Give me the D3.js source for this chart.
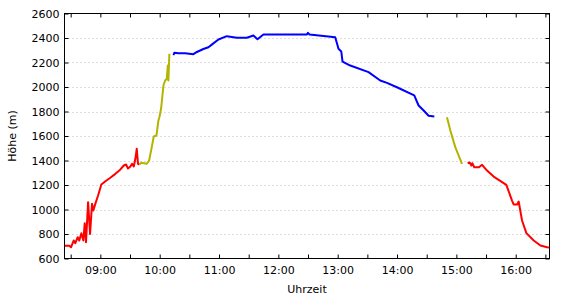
<!DOCTYPE html>
<html><head><meta charset="utf-8">
<script src="https://cdn.jsdelivr.net/npm/d3@7"></script>
<style>
body{margin:0;background:#fff;}
svg{display:block;}
text{font-family:"DejaVu Sans",Verdana,sans-serif;font-size:11px;fill:#000;}
</style></head><body>
<svg id="c" width="570" height="300"></svg>
<script>
// Data: time of day and altitude (m), per coloured segment
const redA_t = ["08:24:00","08:28:36","08:30:24","08:33:06","08:34:42","08:37:06","08:38:42","08:40:48","08:42:48","08:44:12","08:45:30","08:47:36","08:49:36","08:51:36","08:52:54","08:54:54","08:57:42","09:01:00","09:05:06","09:10:06","09:15:12","09:19:12","09:23:42","09:26:00","09:28:00","09:30:24","09:32:06","09:33:48","09:35:24","09:36:48","09:38:06","09:39:30"];
const redA_h = [705,705,692,747,725,774,747,806,747,888,733,1060,801,1046,992,1046,1114,1204,1231,1259,1291,1318,1359,1367,1335,1351,1373,1351,1414,1495,1373,1367];
const yelA_t = ["09:39:30","09:41:12","09:47:00","09:49:18","09:52:00","09:54:00","09:56:42","09:58:42","09:59:42","10:01:24","10:03:48","10:05:30","10:07:12","10:08:12","10:08:48","10:09:48"];
const yelA_h = [1367,1381,1373,1400,1509,1596,1604,1726,1753,1822,2012,2053,2067,2175,2053,2271];
const blue_t = ["10:13:54","10:14:54","10:18:54","10:25:42","10:34:06","10:37:36","10:44:12","10:49:18","10:53:00","10:59:24","11:07:54","11:18:00","11:28:06","11:34:48","11:38:54","11:44:54","12:28:54","12:29:54","12:31:30","12:57:30","13:00:48","13:03:36","13:04:54","13:12:42","13:31:12","13:43:00","13:49:48","13:59:54","14:17:24","14:21:48","14:26:54","14:31:54","14:37:42"];
const blue_h = [2260,2280,2276,2276,2268,2286,2310,2325,2348,2388,2415,2402,2402,2420,2390,2429,2429,2442,2429,2406,2312,2290,2208,2175,2121,2053,2034,1998,1931,1849,1808,1765,1759];
const yelB_t = ["14:50:30","14:53:54","14:58:54","15:05:42"];
const yelB_h = [1753,1645,1509,1373];
const redB_t = ["15:11:24","15:13:24","15:15:06","15:16:06","15:18:06","15:22:54","15:26:00","15:31:00","15:37:42","15:50:30","15:56:18","15:57:54","16:01:24","16:03:00","16:06:24","16:10:48","16:18:12","16:25:00","16:31:42","16:34:06"];
const redB_h = [1378,1384,1359,1378,1345,1345,1365,1318,1269,1201,1073,1041,1041,1065,910,807,747,706,692,690];
const timeDomain = ["08:23:45","16:34:10"];
const yDomain = [600,2600];
const yTicks = [600,800,1000,1200,1400,1600,1800,2000,2200,2400,2600];

const parse = d3.timeParse("%H:%M:%S");
const svg = d3.select("#c");
const L = 64.5, R = 549.5, T = 13.5, B = 258.5;
const x = d3.scaleTime().domain(timeDomain.map(parse)).range([L, R]);
const y = d3.scaleLinear().domain(yDomain).range([B, T]);
const xTicks = d3.timeMinute.every(30).range(parse("08:30:00"), parse("16:34:10"));
const fmt = d3.timeFormat("%H:%M");
const xFmt = d => d.getMinutes() === 0 ? fmt(d) : "";

// gridlines
svg.append("g").selectAll("line").data(yTicks.slice(1, -1)).join("line")
  .attr("x1", L).attr("x2", R)
  .attr("y1", d => Math.round(y(d)) + 0.5).attr("y2", d => Math.round(y(d)) + 0.5)
  .attr("stroke", "#bdbdbd").attr("stroke-dasharray", "1,3");

// axes
function style(g){ g.select(".domain").remove(); g.selectAll("line").attr("stroke","#000"); g.selectAll("text").attr("fill","#000").style("font-family",'"DejaVu Sans",Verdana,sans-serif').style("font-size","11px"); }
svg.append("g").attr("transform", `translate(0,${B})`)
  .call(d3.axisBottom(x).tickValues(xTicks).tickFormat(xFmt).tickSizeInner(-4).tickSizeOuter(0).tickPadding(8)).call(style);
svg.append("g").attr("transform", `translate(0,${T})`)
  .call(d3.axisTop(x).tickValues(xTicks).tickFormat("").tickSizeInner(-4).tickSizeOuter(0)).call(style);
svg.append("g").attr("transform", `translate(${L},0)`)
  .call(d3.axisLeft(y).tickValues(yTicks).tickFormat(d3.format("d")).tickSizeInner(-4).tickSizeOuter(0).tickPadding(5)).call(style);
svg.append("g").attr("transform", `translate(${R},0)`)
  .call(d3.axisRight(y).tickValues(yTicks).tickFormat("").tickSizeInner(-4).tickSizeOuter(0)).call(style);

// frame
svg.append("rect").attr("x", L).attr("y", T).attr("width", R - L).attr("height", B - T)
  .attr("fill", "none").attr("stroke", "#000");

// lines
const line = d3.line().x(d => x(d[0])).y(d => y(d[1]));
const segs = [[redA_t, redA_h, "#ff0000"], [yelA_t, yelA_h, "#b3b300"], [blue_t, blue_h, "#0000ff"], [yelB_t, yelB_h, "#b3b300"], [redB_t, redB_h, "#ff0000"]];
const clip = svg.append("clipPath").attr("id", "cp").append("rect").attr("x", L).attr("y", T).attr("width", R - L).attr("height", B - T);
segs.forEach(([t, h, c]) => {
  svg.append("path").datum(t.map((s, i) => [parse(s), h[i]]))
    .attr("d", line).attr("fill", "none").attr("stroke", c).attr("stroke-width", 2)
    .attr("stroke-linejoin", "round").attr("clip-path", "url(#cp)");
});

// axis titles
svg.append("text").attr("x", (L + R) / 2).attr("y", 293).attr("text-anchor", "middle").text("Uhrzeit");
svg.append("text").attr("transform", `translate(16,${(T + B) / 2}) rotate(-90)`).attr("text-anchor", "middle").text("Höhe (m)");
</script></body></html>
